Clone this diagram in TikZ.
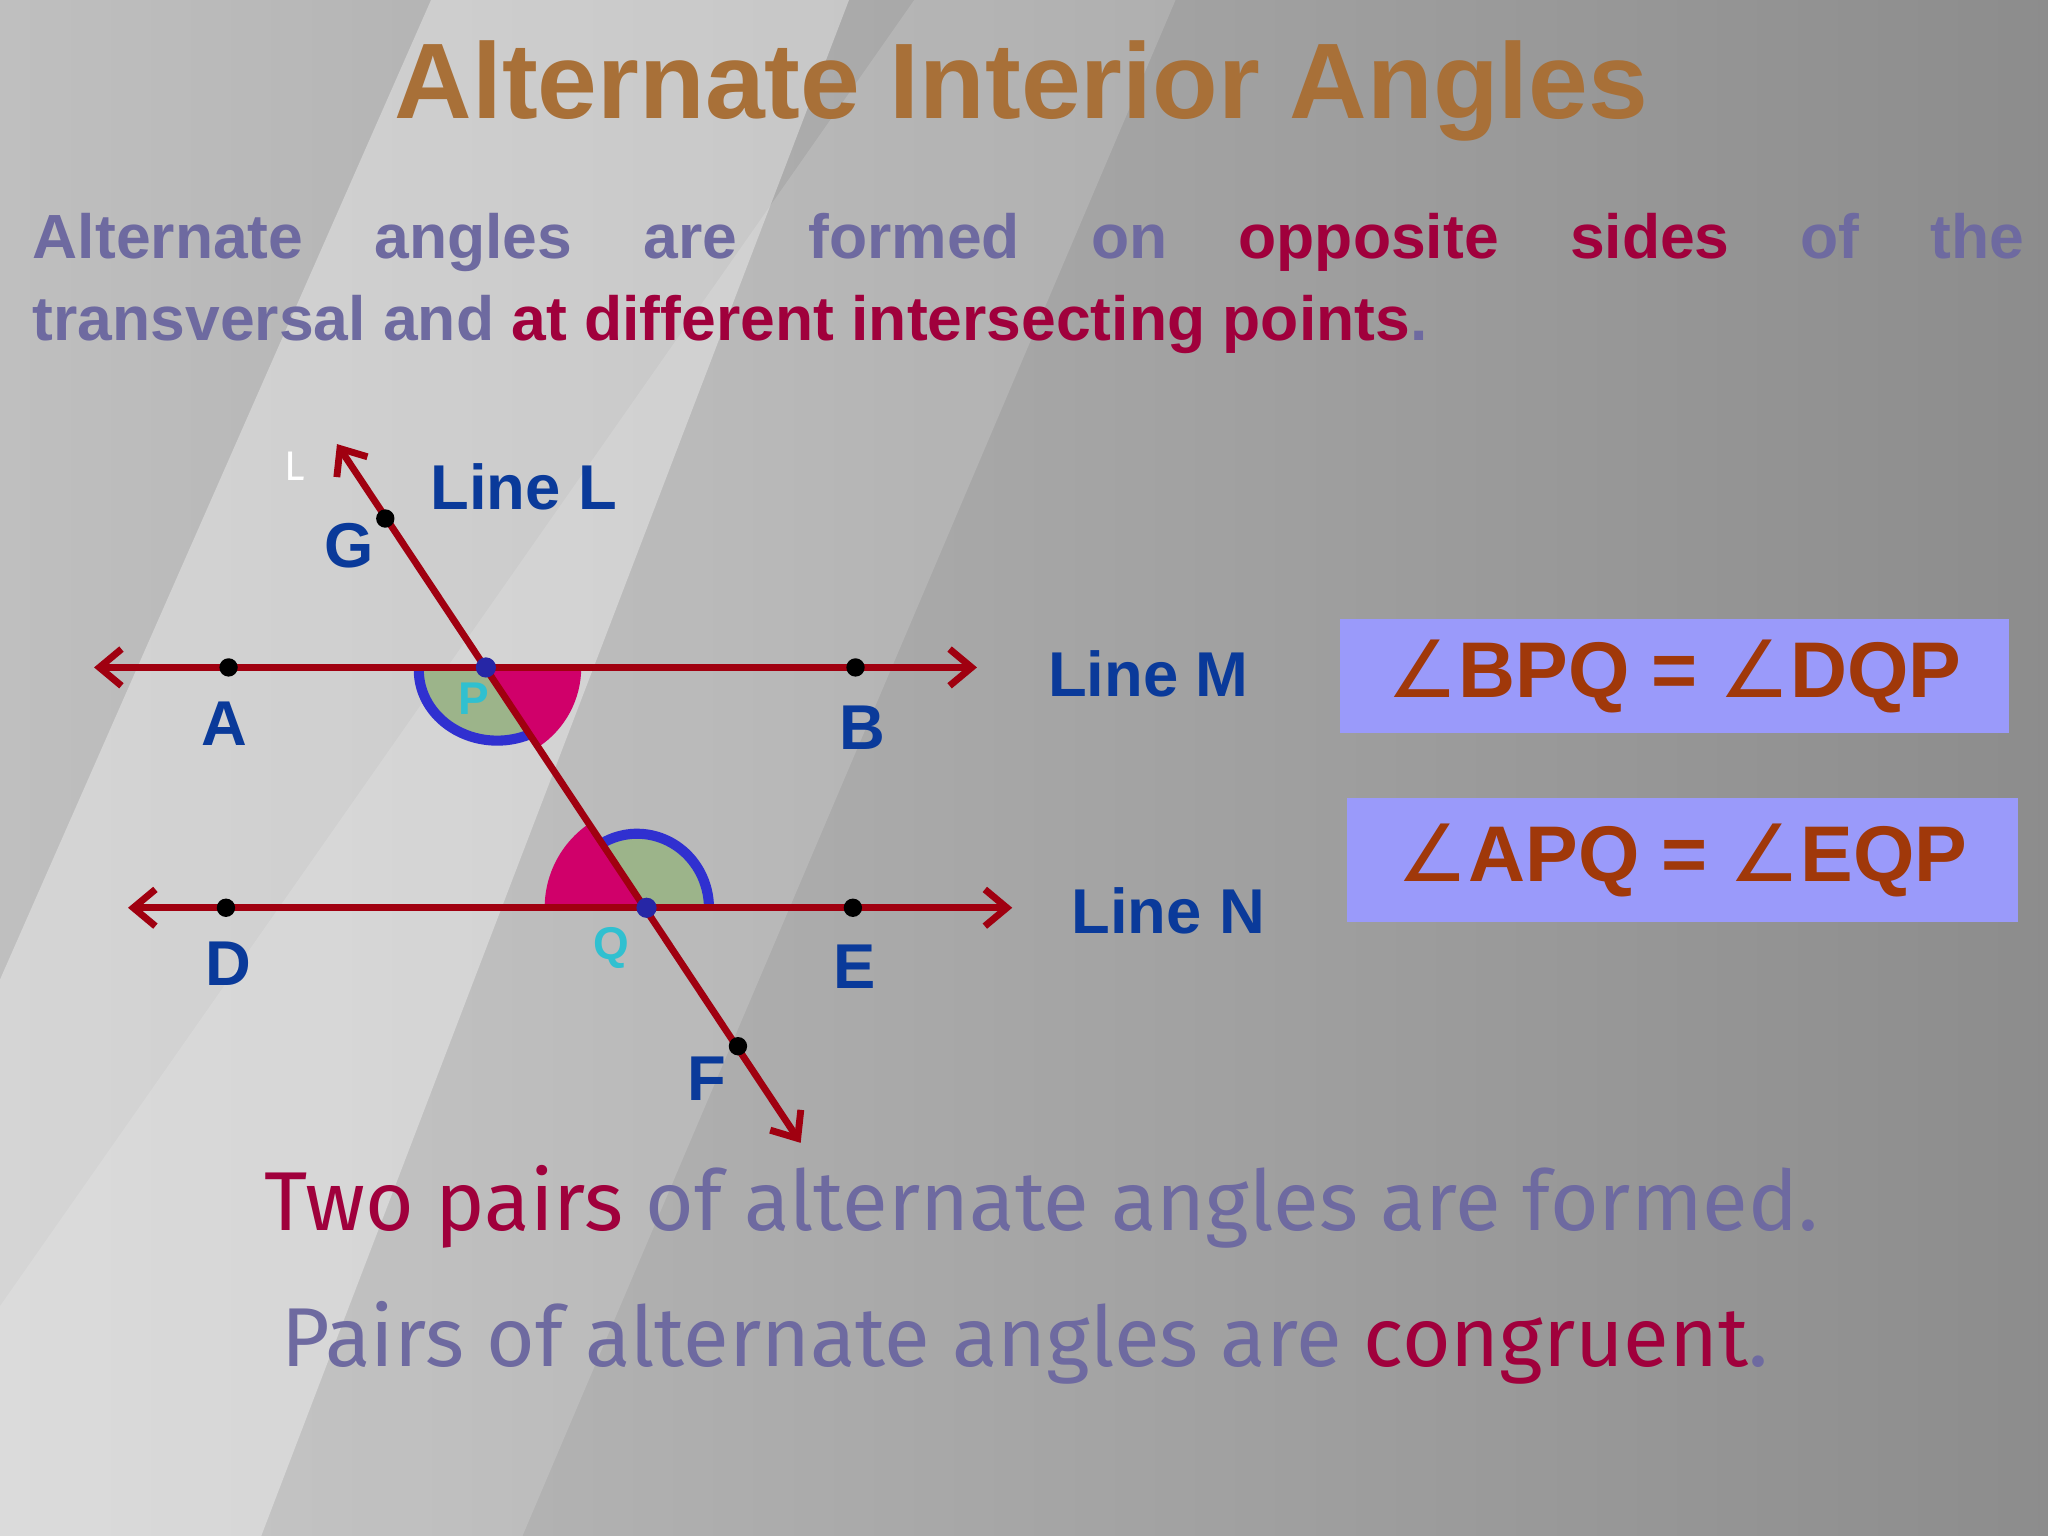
\documentclass[tikz,border=0pt]{standalone}
\usepackage{fontspec}
\setmainfont{Liberation Sans}
\newfontfamily\comic{Fira Sans}
\newfontfamily\symf{DejaVu Sans}
\usetikzlibrary{arrows.meta}
\definecolor{ttl}{HTML}{A87038}
\definecolor{slate}{HTML}{6E6AA0}
\definecolor{crim}{HTML}{A0003C}
\definecolor{lnred}{HTML}{A00010}
\definecolor{lblue}{HTML}{0A3A9A}
\definecolor{boxc}{HTML}{9A9AFA}
\definecolor{boxt}{HTML}{A0380A}
\definecolor{pinkc}{HTML}{D0006A}
\definecolor{greenc}{HTML}{9CB48A}
\definecolor{arcb}{HTML}{3030D0}
\definecolor{cyanc}{HTML}{30C0D0}
\newcommand{\ang}{{\symf\mdseries ∠}}
\begin{document}
\begin{tikzpicture}[x=0.05cm,y=-0.05cm,
  >={Straight Barb[length=24pt,width=40pt,line width=7.5pt]},
  ln/.style={draw=lnred,line width=7.5pt,<->},
  pt/.style={circle,fill=black,inner sep=0pt,minimum size=20pt},
  bpt/.style={circle,fill=arcb!80!black,inner sep=0pt,minimum size=22pt},
  lab/.style={text=lblue,font=\bfseries\fontsize{69}{80}\selectfont},
  bx/.style={fill=boxc,text=boxt,font=\bfseries\fontsize{86}{96}\selectfont,anchor=north west}]
\shade[left color=gray!50,right color=gray!90] (0,0) rectangle (1568,1176);
\fill[white,opacity=0.35] (0,750) -- (330,0) -- (650,0) -- (200,1176) -- (0,1176) -- cycle;
\fill[white,opacity=0.15] (0,1000) -- (700,0) -- (900,0) -- (400,1176) -- (0,1176) -- cycle;
\useasboundingbox (0,0) rectangle (1568,1176);
\node[text=ttl,font=\bfseries\fontsize{117}{125}\selectfont] (title) at (782,70) {Alternate Interior Angles};
\node[anchor=north west,inner sep=0pt,text=slate,font=\bfseries\fontsize{68}{90}\selectfont] (para1) at (25,163) {\parbox{76.25cm}{Alternate angles are formed on \textcolor{crim}{opposite sides} of the\linebreak transversal and \textcolor{crim}{at different intersecting points}.}};
% geometry
\coordinate (P) at (372,511);
\coordinate (Q) at (495,695);
% angles
\fill[pinkc] (P) -- ++(73,0) arc[start angle=0,end angle=56,radius=73] -- cycle;
\fill[greenc] (P) -- (406,562) arc[start angle=65,end angle=180,x radius=60,y radius=54] -- cycle;
\draw[arcb,line width=11pt] (406,562) arc[start angle=65,end angle=180,x radius=60,y radius=54];
\fill[pinkc] (Q) -- ++(-78,0) arc[start angle=180,end angle=236,radius=78] -- cycle;
\fill[greenc] (Q) -- (462,645) arc[start angle=-118,end angle=0,x radius=55,y radius=57] -- cycle;
\draw[arcb,line width=11pt] (462,645) arc[start angle=-118,end angle=0,x radius=55,y radius=57];
% lines
\coordinate (Lt) at (258,340);
\coordinate (Lb) at (613,875);
\coordinate (Ml) at (72,511);
\coordinate (Mr) at (748,511);
\coordinate (Nl) at (98,695);
\coordinate (Nr) at (775,695);
\draw[ln] (Ml) -- (Mr);
\draw[ln] (Nl) -- (Nr);
\draw[ln] (Lt) -- (Lb);
% points
\node[pt] (G) at (295,397) {};
\node[pt] (A) at (175,511) {};
\node[pt] (B) at (655,511) {};
\node[pt] (D) at (173,695) {};
\node[pt] (E) at (653,695) {};
\node[pt] (F) at (565,801) {};
\node[bpt] (Pd) at (P) {};
\node[bpt] (Qd) at (Q) {};
\node[text=cyanc,font=\bfseries\fontsize{50}{60}\selectfont] (Pl) at (363,535) {P};
\node[text=cyanc,font=\bfseries\fontsize{50}{60}\selectfont] (Ql) at (468,726) {Q};
% labels
\node[lab] (Gl) at (267,418) {G};
\node[lab] (Al) at (172,554) {A};
\node[lab] (Bl) at (660,557) {B};
\node[lab] (Dl) at (175,738) {D};
\node[lab] (El) at (654,740) {E};
\node[lab] (Fl) at (541,826) {F};
\node[lab,anchor=west] (LL) at (327,373) {Line L};
\node[lab,anchor=west] (LM) at (800,516) {Line M};
\node[lab,anchor=west] (LN) at (818,697) {Line N};
\node[text=white,font=\comic\fontsize{45}{50}\selectfont] (wl) at (226,357) {L};
% boxes
\node[bx,minimum width=25.6cm,minimum height=4.35cm] (b1) at (1026,474) {\ang BPQ = \ang DQP};
\node[bx,minimum width=25.7cm,minimum height=4.75cm] (b2) at (1031,611) {\ang APQ = \ang EQP};
% bottom
\node[anchor=west,text=slate,font=\comic\fontsize{91}{100}\selectfont] (t1) at (200,924) {\textcolor{crim}{Two pairs} of alternate angles are formed.};
\node[anchor=west,text=slate,font=\comic\fontsize{91}{100}\selectfont] (t2) at (213,1028) {Pairs of alternate angles are \textcolor{crim}{congruent}.};
\end{tikzpicture}
\end{document}
